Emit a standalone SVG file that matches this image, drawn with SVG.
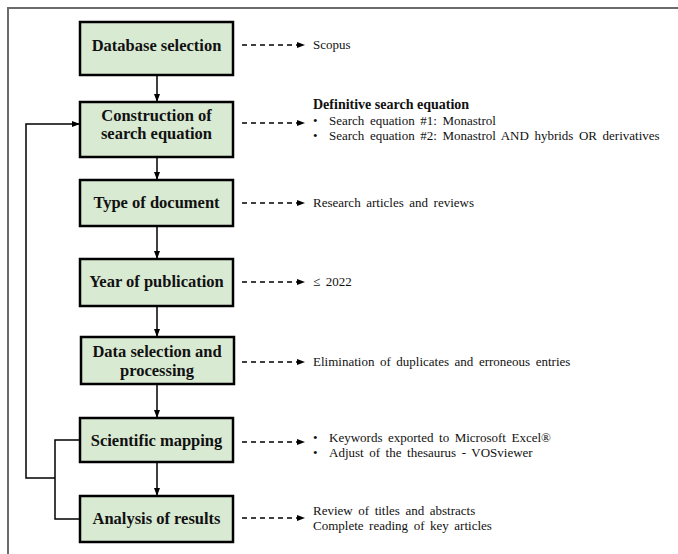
<svg xmlns="http://www.w3.org/2000/svg" width="678" height="554" viewBox="0 0 678 554">
<defs>
<marker id="ah" markerWidth="8" markerHeight="6" refX="7" refY="3" orient="auto" markerUnits="userSpaceOnUse">
<path d="M0,0 L8,3 L0,6 Z" fill="#000"/>
</marker>
<style>
.box{fill:#d9ead3;stroke:#000;stroke-width:2.5}
.lbl{font-family:"Liberation Serif","DejaVu Serif",serif;font-weight:bold;font-size:16.5px;text-anchor:middle;fill:#111}
.note{font-family:"Liberation Serif","DejaVu Serif",serif;font-size:13px;fill:#111;word-spacing:2.3px}
.noteb{font-family:"Liberation Serif","DejaVu Serif",serif;font-size:14px;font-weight:bold;fill:#111}
.ln{fill:none;stroke:#000;stroke-width:1.5}
.dash{fill:none;stroke:#000;stroke-width:1.6;stroke-dasharray:5,4}
</style>
</defs>
<rect width="678" height="554" fill="#fff"/>
<path d="M8,554 V8 H678" fill="none" stroke="#6b6b6b" stroke-width="2"/>

<g id="n1"><rect class="box" x="80" y="22" width="153" height="53"/><text class="lbl" x="156.5" y="51">Database selection</text></g>
<g id="n2"><rect class="box" x="80" y="102" width="153" height="55"/><text class="lbl" x="156.5" y="121">Construction of</text><text class="lbl" x="156.5" y="139">search equation</text></g>
<g id="n3"><rect class="box" x="80" y="180" width="153" height="46"/><text class="lbl" x="156.5" y="208">Type of document</text></g>
<g id="n4"><rect class="box" x="80" y="259" width="153" height="47"/><text class="lbl" x="156.5" y="287">Year of publication</text></g>
<g id="n5"><rect class="box" x="81" y="337" width="153" height="47"/><text class="lbl" x="157" y="357">Data selection and</text><text class="lbl" x="157" y="376">processing</text></g>
<g id="n6"><rect class="box" x="80" y="418" width="153" height="44"/><text class="lbl" x="156.5" y="446">Scientific mapping</text></g>
<g id="n7"><rect class="box" x="80" y="496" width="153" height="46"/><text class="lbl" x="156.5" y="524">Analysis of results</text></g>

<g id="notes">
<text class="note" x="313" y="49">Scopus</text>
<text class="noteb" x="313" y="109">Definitive search equation</text>
<text class="note" x="313" y="125">•</text><text class="note" x="329" y="125">Search equation #1: Monastrol</text>
<text class="note" x="313" y="140">•</text><text class="note" x="329" y="140">Search equation #2: Monastrol AND hybrids OR derivatives</text>
<text class="note" x="313" y="207">Research articles and reviews</text>
<text class="note" x="313" y="286">≤ 2022</text>
<text class="note" x="313" y="366">Elimination of duplicates and erroneous entries</text>
<text class="note" x="313" y="442">•</text><text class="note" x="329" y="442">Keywords exported to Microsoft Excel®</text>
<text class="note" x="313" y="457">•</text><text class="note" x="329" y="457">Adjust of the thesaurus - VOSviewer</text>
<text class="note" x="313" y="515">Review of titles and abstracts</text>
<text class="note" x="313" y="530">Complete reading of key articles</text>
</g>

<g id="connectors">
<line class="ln" x1="157" y1="76" x2="157" y2="101" marker-end="url(#ah)"/>
<line class="ln" x1="157" y1="158" x2="157" y2="179" marker-end="url(#ah)"/>
<line class="ln" x1="157" y1="227" x2="157" y2="258" marker-end="url(#ah)"/>
<line class="ln" x1="157" y1="307" x2="157" y2="336" marker-end="url(#ah)"/>
<line class="ln" x1="157" y1="385" x2="157" y2="417" marker-end="url(#ah)"/>
<line class="ln" x1="157" y1="463" x2="157" y2="495" marker-end="url(#ah)"/>
<line class="dash" x1="242" y1="45" x2="304" y2="45" marker-end="url(#ah)"/>
<line class="dash" x1="242" y1="123" x2="304" y2="123" marker-end="url(#ah)"/>
<line class="dash" x1="242" y1="203" x2="304" y2="203" marker-end="url(#ah)"/>
<line class="dash" x1="242" y1="282" x2="304" y2="282" marker-end="url(#ah)"/>
<line class="dash" x1="242" y1="362" x2="304" y2="362" marker-end="url(#ah)"/>
<line class="dash" x1="242" y1="442" x2="304" y2="442" marker-end="url(#ah)"/>
<line class="dash" x1="242" y1="518" x2="304" y2="518" marker-end="url(#ah)"/>
<path class="ln" d="M79,440 H55 V519 H79"/>
<path class="ln" d="M55,478 H26 V124 H79" marker-end="url(#ah)"/>
</g>
</svg>
